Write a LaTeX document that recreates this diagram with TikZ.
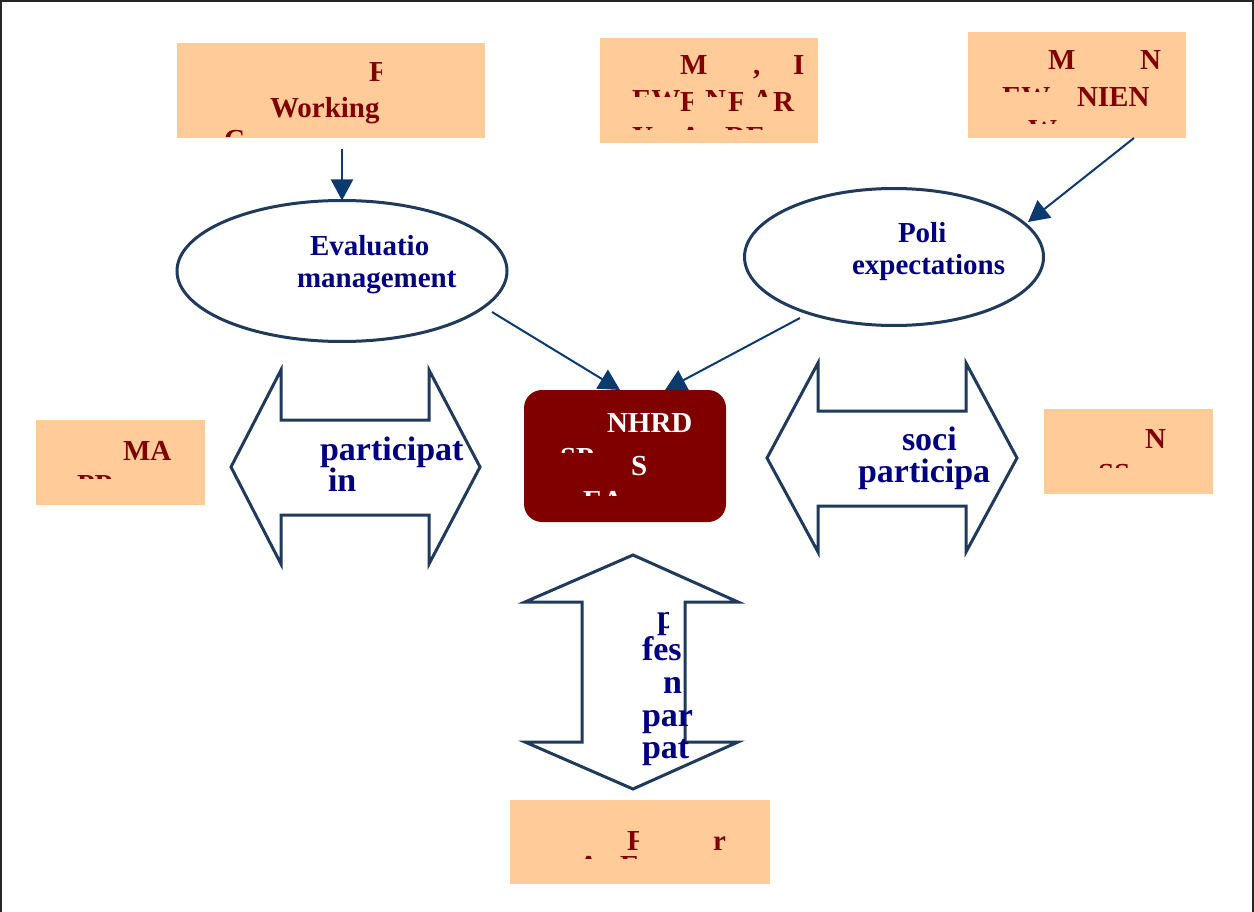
\documentclass[tikz,border=0pt]{standalone}
\usepackage{fontspec}
\setmainfont{Liberation Serif}
\usetikzlibrary{shapes.geometric,arrows.meta,calc}

\definecolor{peach}{HTML}{FFCC99}
\definecolor{boxtext}{HTML}{800000}
\definecolor{inktext}{HTML}{000080}
\definecolor{outline}{HTML}{1F3A5A}
\definecolor{linkblue}{HTML}{0B3B6E}
\definecolor{hub}{HTML}{800000}

\tikzset{
  card/.style={rectangle, fill=peach, draw=none, inner sep=0pt, outer sep=0pt},
  bubble/.style={ellipse, draw=outline, line width=3pt, fill=white, inner sep=0pt, outer sep=0pt},
  hubbox/.style={rectangle, rounded corners=18pt, fill=hub, inner sep=0pt, outer sep=0pt},
  frag/.style={anchor=base west, inner sep=0pt, outer sep=0pt,
               font=\fontsize{29}{33}\selectfont\bfseries},
  redfrag/.style={frag, text=boxtext},
  whitefrag/.style={frag, text=white},
  bluefrag/.style={frag, text=inktext},
  bigfrag/.style={bluefrag, font=\fontsize{34}{38}\selectfont\bfseries},
  twoway/.style={draw=outline, line width=3pt, line join=miter},
  link/.style={draw=linkblue, line width=2pt, -{Triangle[length=21pt,width=22pt]}},
}

\begin{document}
\begin{tikzpicture}[x=1pt, y=-1pt]
  \useasboundingbox (0,0) rectangle (1254,912);
  \fill[white] (0,0) rectangle (1254,912);
  \draw[black!85, line width=1.5pt] (1,915) -- (1,1) -- (1253,1) -- (1253,915);

  % peach cards
  \node[card, minimum width=308pt, minimum height=95pt]  (b1) at (331,90.5) {};
  \node[card, minimum width=218pt, minimum height=105pt] (b2) at (709,90.5) {};
  \node[card, minimum width=218pt, minimum height=106pt] (b3) at (1077,85) {};
  \node[card, minimum width=169pt, minimum height=85pt]  (b4) at (120.5,462.5) {};
  \node[card, minimum width=169pt, minimum height=85pt]  (b5) at (1128.5,451.5) {};
  \node[card, minimum width=260pt, minimum height=84pt]  (b6) at (640,842) {};

  % ellipses and central block
  \node[bubble, minimum width=330pt, minimum height=141pt] (e1) at (342,271) {};
  \node[bubble, minimum width=299pt, minimum height=137pt] (e2) at (894,257) {};
  \node[hubbox, minimum width=202pt, minimum height=132pt] (hub) at (625,456) {};

  % two-way block arrows
  \draw[twoway] (231,467) -- (281,370) -- (281,420) -- (429,420) -- (429,370)
    -- (480,467) -- (429,564) -- (429,515) -- (281,515) -- (281,564) -- cycle;
  \draw[twoway] (767,458) -- (818,363) -- (818,411) -- (966,411) -- (966,363)
    -- (1017,458) -- (966,552) -- (966,506) -- (818,506) -- (818,552) -- cycle;
  \draw[twoway] (633,555) -- (738,602) -- (685,602) -- (685,742) -- (738,742)
    -- (633,789) -- (525,742) -- (582,742) -- (582,602) -- (525,602) -- cycle;

  % card 1 text
  \begin{scope}
    \clip (360,55) rectangle (381,100);
    \node[redfrag] (b1a) at (369,82) {F};
  \end{scope}
  \node[redfrag] (b1b) at (270,118) {Working};
  \begin{scope}
    \clip (215,125) rectangle (260,137);
    \node[redfrag] (b1c) at (224,150) {C};
  \end{scope}

  % card 2 text
  \node[redfrag] (b2a) at (680,75) {M};
  \node[redfrag] (b2b) at (753,75) {,};
  \node[redfrag] (b2c) at (793,75) {I};
  \begin{scope}
    \clip (625,86) rectangle (800,97);
    \node[redfrag] (b2d) at (632,110) {EW};
    \node[redfrag] (b2e) at (705,110) {N};
    \node[redfrag] (b2f) at (752,110) {A};
  \end{scope}
  \begin{scope}
    \clip (675,85) rectangle (692,120);
    \node[redfrag] (b2g) at (680,112) {F};
  \end{scope}
  \begin{scope}
    \clip (722,85) rectangle (742,120);
    \node[redfrag] (b2h) at (728,112) {F};
  \end{scope}
  \node[redfrag] (b2i) at (773,112) {R};
  \begin{scope}
    \clip (625,124) rectangle (800,130);
    \node[redfrag] (b2j) at (632,147) {Y};
    \node[redfrag] (b2k) at (680,147) {A};
    \node[redfrag] (b2l) at (725,147) {DE};
  \end{scope}

  % card 3 text
  \node[redfrag] (b3a) at (1048,70) {M};
  \node[redfrag] (b3b) at (1140,70) {N};
  \begin{scope}
    \clip (995,83) rectangle (1070,92);
    \node[redfrag] (b3c) at (1002,107) {EW};
  \end{scope}
  \node[redfrag] (b3d) at (1077,107) {NIEN};
  \begin{scope}
    \clip (1020,116) rectangle (1070,124);
    \node[redfrag] (b3e) at (1028,140) {W};
  \end{scope}

  % card 4 text
  \node[redfrag] (b4a) at (123,460) {MA};
  \begin{scope}
    \clip (70,470) rectangle (120,478);
    \node[redfrag] (b4b) at (77,494) {PP};
  \end{scope}

  % card 5 text
  \node[redfrag] (b5a) at (1145,448) {N};
  \begin{scope}
    \clip (1090,459) rectangle (1140,467);
    \node[redfrag] (b5b) at (1098,483) {SS};
  \end{scope}

  % card 6 text
  \begin{scope}
    \clip (620,820) rectangle (638,860);
    \node[redfrag] (b6a) at (627,850) {F};
  \end{scope}
  \node[redfrag] (b6b) at (713,850) {r};
  \begin{scope}
    \clip (583,851) rectangle (645,858);
    \node[redfrag] (b6c) at (578,875) {A};
    \node[redfrag] (b6d) at (620,875) {E};
  \end{scope}

  % central block text
  \node[whitefrag] (h1) at (607,432) {NHRD};
  \node[whitefrag] (h2) at (631,475) {S};
  \begin{scope}
    \clip (555,443) rectangle (600,452);
    \node[whitefrag] (h3) at (560,467) {SP};
  \end{scope}
  \begin{scope}
    \clip (578,486) rectangle (625,495);
    \node[whitefrag] (h4) at (583,510) {EA};
  \end{scope}

  % ellipse text
  \node[bluefrag] (e1a) at (310,256) {Evaluatio};
  \node[bluefrag] (e1b) at (297,288) {management};
  \node[bluefrag] (e2a) at (898,243) {Poli};
  \node[bluefrag] (e2b) at (852,275) {expectations};

  % block arrow text
  \node[bigfrag] (l1) at (320,460) {participat};
  \node[bigfrag] (l2) at (328,491) {in};
  \node[bigfrag] (r1) at (902,450) {soci};
  \node[bigfrag] (r2) at (858,482) {participa};
  \begin{scope}
    \clip (650,600) rectangle (668,640);
    \node[bigfrag] (v1) at (657,628) {p};
  \end{scope}
  \node[bigfrag] (v2) at (642,660) {fes};
  \node[bigfrag] (v3) at (663,693) {n};
  \node[bigfrag] (v4) at (642,726) {par};
  \node[bigfrag] (v5) at (642,758) {pat};

  % connectors
  \draw[link] ($(b1.south)+(11,11)$) -- (e1.north);
  \draw[link] ($(b3.south)+(57,0)$) -- ($(e2.center)+(134,-35)$);
  \draw[link] ($(e1.center)+(150,41)$) -- ($(hub.north)+(-5,0)$);
  \draw[link] ($(e2.center)+(-94,61)$) -- ($(hub.north)+(40,0)$);
\end{tikzpicture}
\end{document}
